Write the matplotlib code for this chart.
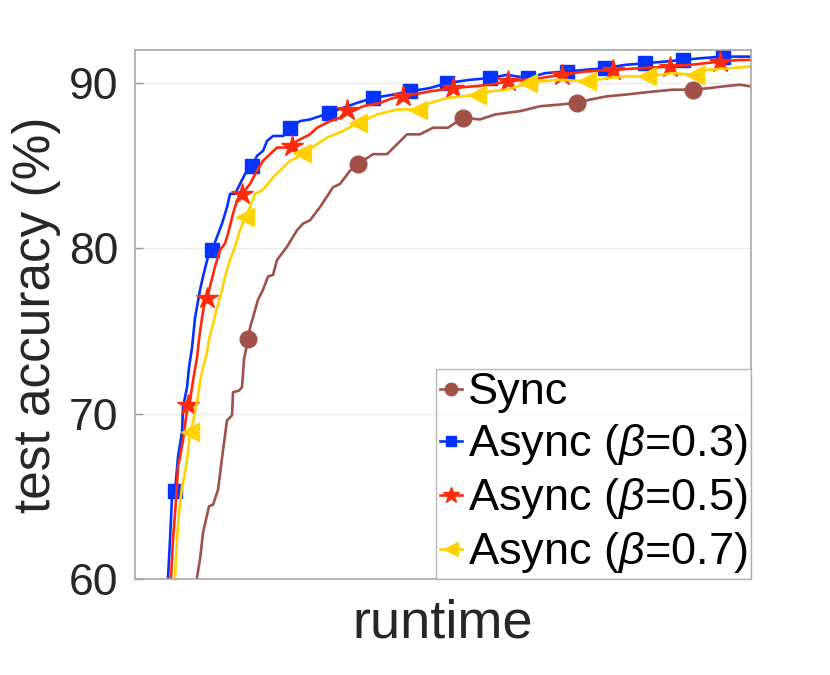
import numpy as np
import matplotlib
matplotlib.use("Agg")
import matplotlib.pyplot as plt

plt.rcParams['font.family'] = ['Liberation Sans', 'DejaVu Sans']
plt.rcParams['mathtext.fontset'] = 'custom'
plt.rcParams['mathtext.it'] = 'Liberation Sans:italic'
plt.rcParams['mathtext.rm'] = 'Liberation Sans'

# runtime (arbitrary units) and test accuracy (%)
sync_t = [60, 62, 65, 68, 74, 78, 83, 88, 92, 97, 98, 104, 107, 109, 113, 115, 123, 128, 133, 138,
          142, 152, 162, 168, 175, 185, 198, 205, 215, 223, 238, 252, 262, 272, 285, 298, 313, 328,
          345, 360, 372, 385, 405, 425, 442, 455, 472, 490, 505, 520, 538, 558, 575, 588, 605, 616]
sync_acc = [58.8, 60.1, 61.2, 62.8, 64.4, 64.5, 65.4, 67.8, 69.6, 69.9, 71.3, 71.4, 71.6, 73.3, 74.5,
            75.2, 76.9, 77.5, 78.3, 78.4, 79.3, 80.1, 81.1, 81.5, 81.7, 82.5, 83.7, 83.9, 84.7, 85.1,
            85.7, 85.7, 86.3, 86.9, 86.9, 87.3, 87.3, 87.9, 87.8, 88.1, 88.2, 88.3, 88.6, 88.7, 88.8,
            89.0, 89.2, 89.3, 89.4, 89.5, 89.6, 89.6, 89.7, 89.8, 89.9, 89.8]
sync_marks = [113, 223, 328, 442, 558]

b3_t = [31, 33, 35, 37, 40, 43, 47, 48, 52, 54, 57, 60, 65, 68, 73, 77, 82, 87, 92, 95, 100, 105,
        110, 117, 122, 128, 132, 138, 148, 155, 165, 175, 185, 194, 208, 222, 238, 258, 275, 295,
        312, 335, 355, 372, 393, 410, 432, 450, 470, 490, 510, 530, 548, 565, 588, 605, 616]
b3_acc = [58.8, 60.1, 62.4, 65.0, 65.3, 67.4, 68.9, 70.4, 71.6, 72.8, 74.0, 75.8, 77.5, 78.3, 79.5,
          79.9, 80.7, 81.5, 82.5, 83.3, 83.3, 83.9, 84.5, 85.0, 85.6, 85.9, 86.5, 86.8, 86.8, 87.3,
          87.7, 87.8, 88.0, 88.2, 88.5, 88.8, 89.1, 89.3, 89.5, 89.7, 90.0, 90.2, 90.3, 90.5, 90.3,
          90.6, 90.7, 90.8, 90.9, 91.1, 91.2, 91.3, 91.4, 91.5, 91.6, 91.6, 91.6]
b3_marks = [40, 77, 117, 155, 194, 238, 275, 312, 355, 393, 432, 470, 510, 548, 588]

b5_t = [35, 36, 38, 41, 43, 45, 48, 51, 53, 55, 58, 62, 64, 67, 70, 72, 75, 80, 85, 90, 93, 98, 102,
        107, 115, 122, 128, 135, 142, 152, 157, 162, 175, 182, 195, 205, 212, 218, 228, 245, 258,
        268, 278, 295, 318, 338, 355, 373, 390, 405, 427, 450, 478, 505, 535, 555, 585, 605, 616]
b5_acc = [58.8, 60.1, 62.4, 64.8, 66.8, 67.4, 68.4, 69.8, 70.5, 70.8, 72.0, 73.4, 74.5, 75.8, 76.9,
          77.0, 77.7, 78.9, 79.9, 80.3, 80.9, 82.1, 82.9, 83.3, 83.9, 84.7, 85.3, 85.7, 86.1, 86.1,
          86.2, 86.5, 86.9, 87.3, 87.7, 87.9, 88.4, 88.3, 88.6, 88.8, 89.1, 89.2, 89.3, 89.5, 89.7,
          89.8, 89.9, 90.1, 90.2, 90.3, 90.5, 90.7, 90.8, 90.9, 91.0, 91.1, 91.3, 91.4, 91.4]
b5_marks = [53, 72, 107, 157, 212, 268, 318, 373, 427, 478, 535, 585]

b7_t = [39, 40, 42, 44, 47, 50, 53, 55, 58, 62, 65, 68, 72, 74, 77, 82, 87, 90, 95, 100, 105, 110,
        115, 120, 127, 133, 138, 145, 155, 162, 167, 172, 182, 192, 208, 223, 228, 242, 262, 283,
        295, 313, 342, 355, 372, 393, 405, 425, 452, 472, 490, 512, 538, 560, 572, 595, 616]
b7_acc = [58.8, 60.1, 62.4, 64.0, 65.6, 66.4, 67.7, 68.9, 69.5, 70.7, 71.9, 72.8, 73.7, 74.5, 75.2,
          76.4, 77.5, 78.3, 79.3, 80.1, 81.1, 81.9, 82.5, 83.3, 83.5, 83.9, 84.3, 84.7, 85.3, 85.5,
          85.8, 85.9, 86.3, 86.7, 87.1, 87.6, 87.7, 88.1, 88.4, 88.4, 88.8, 89.1, 89.3, 89.5, 89.6,
          90.0, 90.1, 90.2, 90.1, 90.3, 90.4, 90.4, 90.6, 90.5, 90.8, 90.9, 91.0]
b7_marks = [55, 110, 167, 223, 283, 342, 393, 452, 512, 560]

series = [
    ("Sync", sync_t, sync_acc, sync_marks, "#A0514A", "o", 12),
    (r"Async ($\beta$=0.3)", b3_t, b3_acc, b3_marks, "#0433FF", "s", 10),
    (r"Async ($\beta$=0.5)", b5_t, b5_acc, b5_marks, "#FF2A0A", "*", 16),
    (r"Async ($\beta$=0.7)", b7_t, b7_acc, b7_marks, "#FFD200", "<", 13),
]

fig = plt.figure(figsize=(8.3, 6.75), dpi=100)
ax = fig.add_axes([0.1627, 0.1422, 0.7421, 0.7837])

for label, t, acc, marks, color, mk, ms in series:
    t = np.array(t)
    # marker positions: nearest sampled runtime to each marked point
    idx = [int(np.argmin(np.abs(t - m))) for m in marks]
    ax.plot(t, acc, color=color, lw=1.9, marker=mk, ms=ms, markevery=idx,
            markeredgecolor=color, markerfacecolor=color, label=label)

ax.set_xlim(0, 616)
ax.set_ylim(60, 92)
ax.set_yticks([60, 70, 80, 90])
ax.set_xticks([])
ax.yaxis.grid(True, color="#EBEBEB", lw=1)
ax.set_axisbelow(True)
ax.tick_params(axis="y", direction="in", length=6, width=1, color="#9A9A9A",
               labelsize=32, labelcolor="#262626", pad=12)
for sp in ax.spines.values():
    sp.set_color("#A8A8A8")
    sp.set_linewidth(1.2)

ax.set_xlabel("runtime", fontsize=39, color="#262626", labelpad=14)
ax.set_ylabel("test accuracy (%)", fontsize=37, color="#262626", labelpad=6)

leg = ax.legend(loc="lower right", bbox_to_anchor=(1.0, 0.0), borderaxespad=0,
                fontsize=32.5, frameon=True, fancybox=False, edgecolor="#A8A8A8",
                handlelength=0.5, handletextpad=0.12, labelspacing=0.2,
                borderpad=0.08, markerscale=0.75)
leg.get_frame().set_linewidth(1.0)

fig.savefig("out.png", dpi=100)
